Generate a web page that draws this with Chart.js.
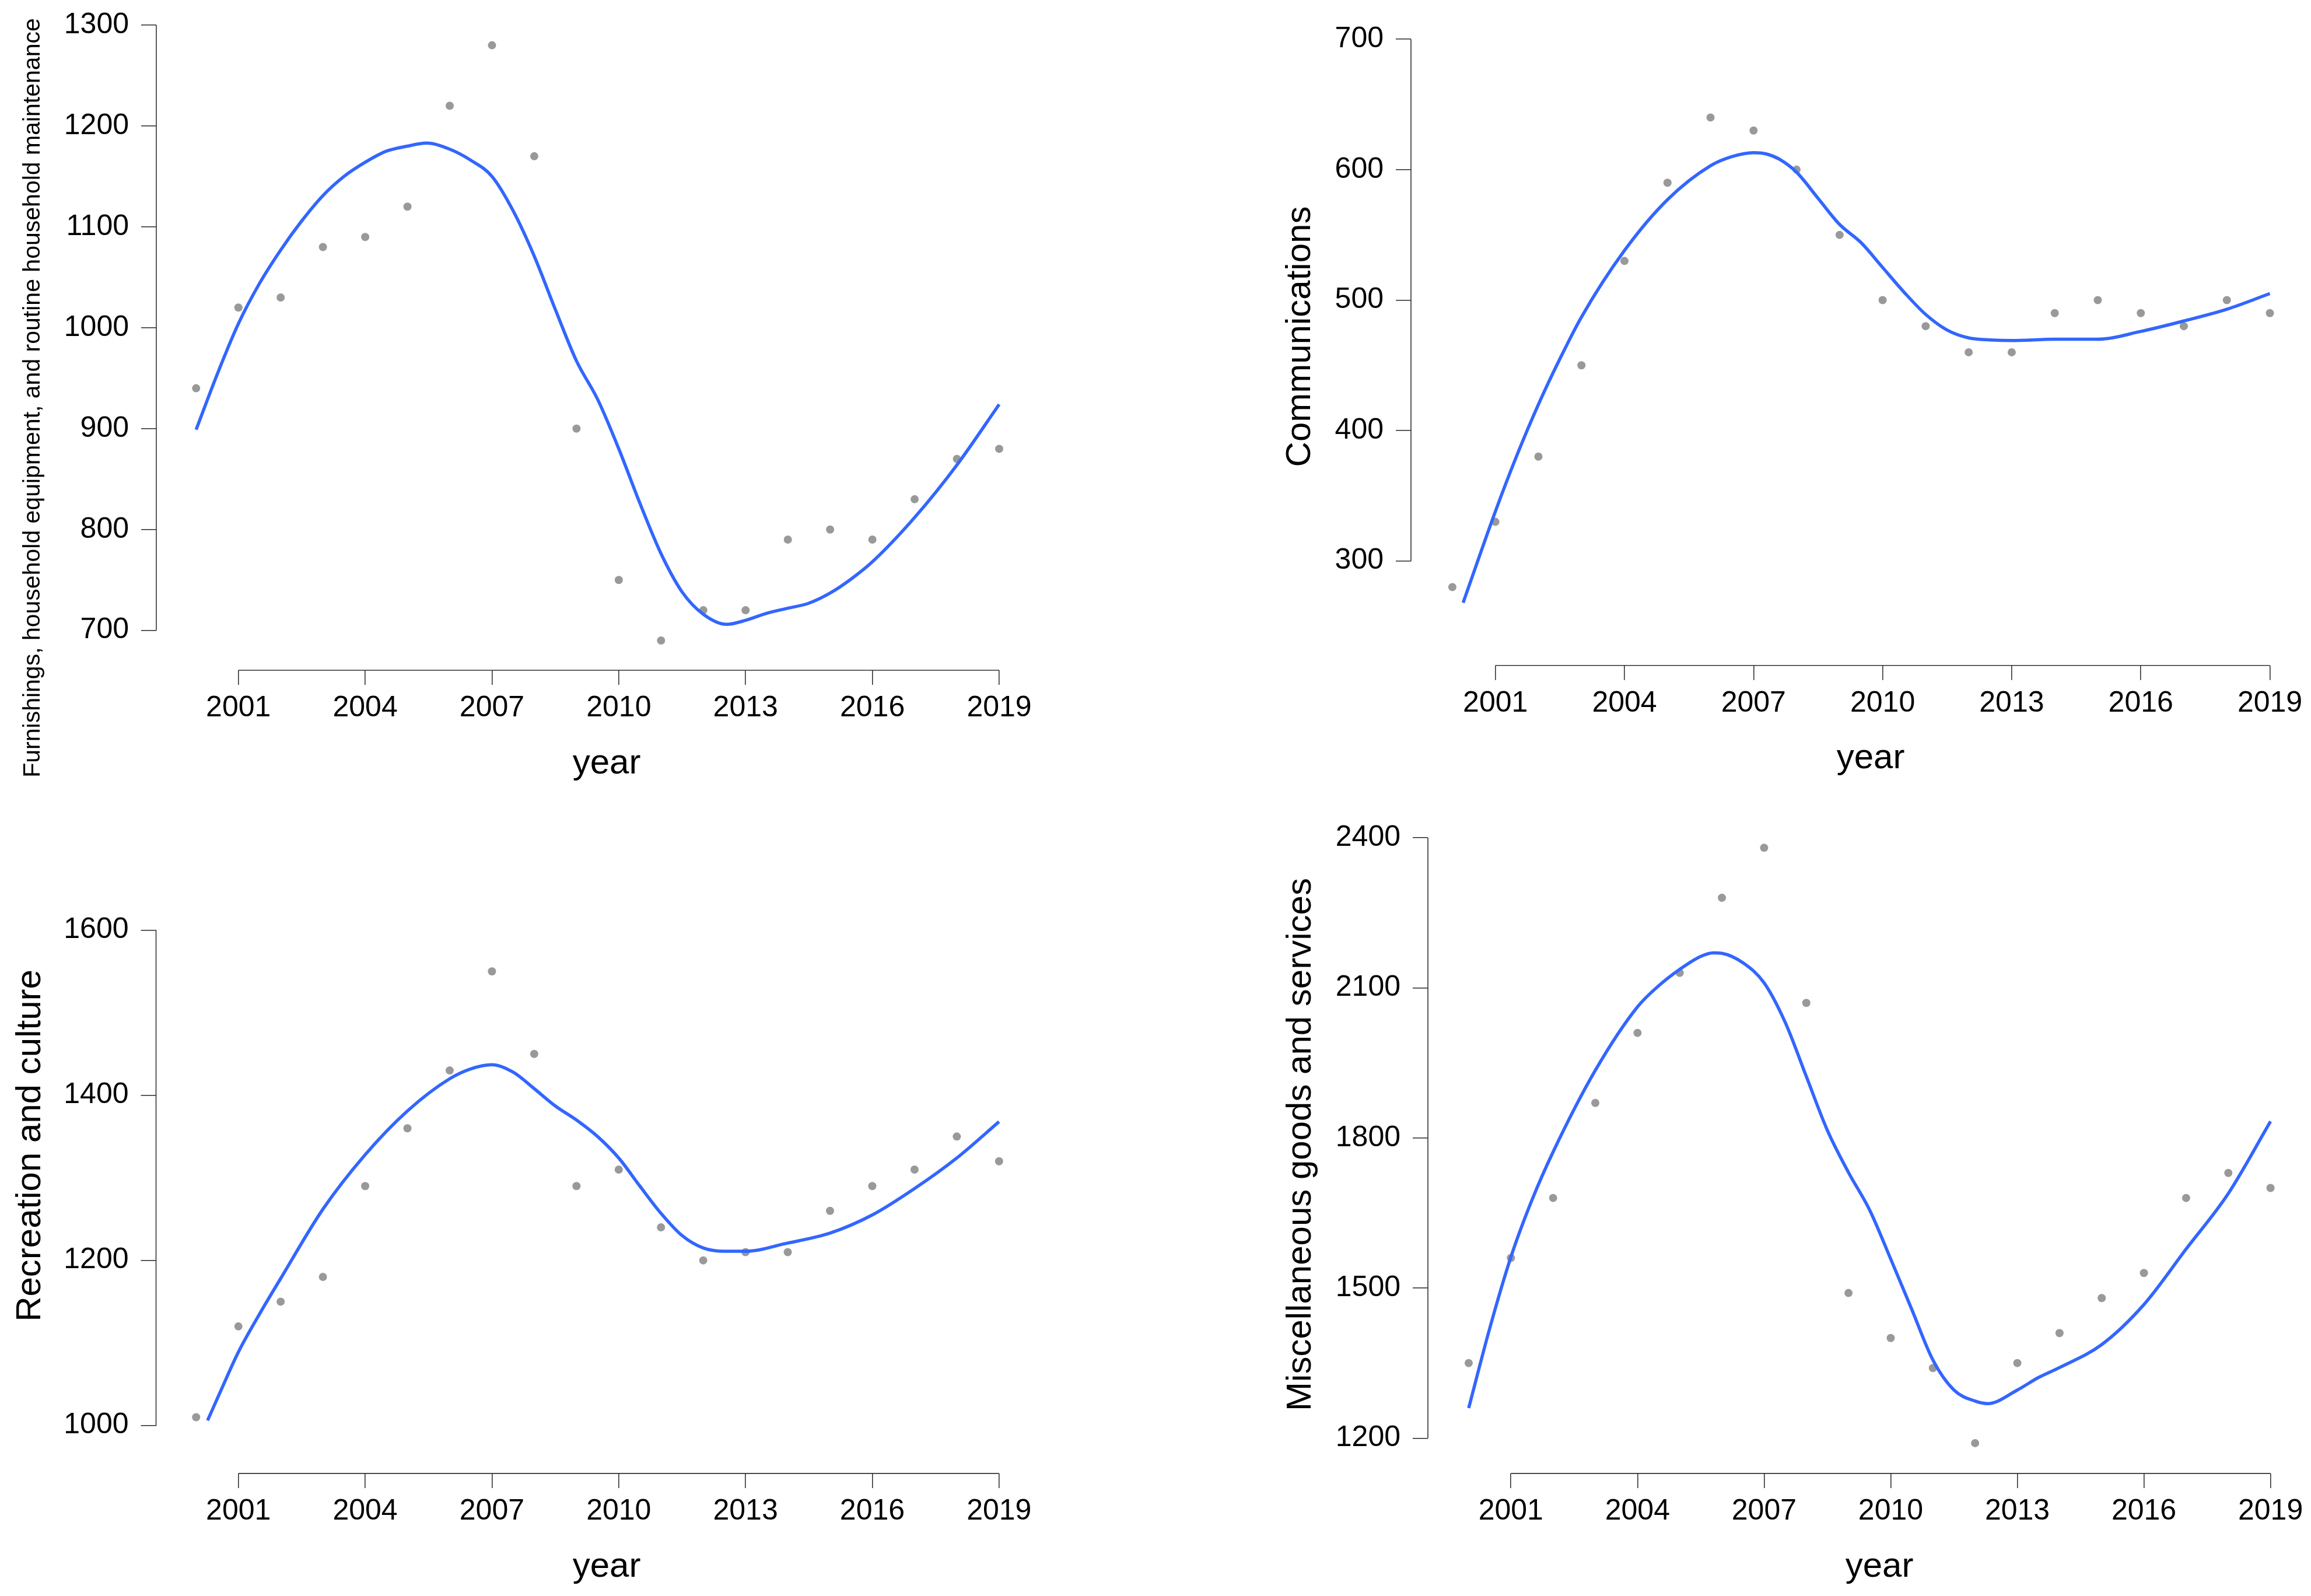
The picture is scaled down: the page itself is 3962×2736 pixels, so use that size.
<!DOCTYPE html>
<html>
<head>
<meta charset="utf-8">
<script src="https://cdn.jsdelivr.net/npm/chart.js@4.4.1/dist/chart.umd.min.js"></script>
<style>
  html, body { margin: 0; padding: 0; background: #fff; }
  #page { position: relative; width: 3962px; height: 2736px; overflow: hidden; }
  #page canvas { position: absolute; }
</style>
</head>
<body>
<div id="page">
  <canvas id="c1" width="1981" height="1368" style="left:0;top:0"></canvas>
  <canvas id="c2" width="1981" height="1368" style="left:1981px;top:0"></canvas>
  <canvas id="c3" width="1981" height="1368" style="left:0;top:1368px"></canvas>
  <canvas id="c4" width="1981" height="1368" style="left:1981px;top:1368px"></canvas>
</div>
<script>
// observed yearly values
const years = [2000, 2001, 2002, 2003, 2004, 2005, 2006, 2007, 2008, 2009,
  2010, 2011, 2012, 2013, 2014, 2015, 2016, 2017, 2018, 2019];
const furnishings = [940, 1020, 1030, 1080, 1090, 1120, 1220, 1280, 1170, 900,
  750, 690, 720, 720, 790, 800, 790, 830, 870, 880];
const communications = [280, 330, 380, 450, 530, 590, 640, 630, 600, 550,
  500, 480, 460, 460, 490, 500, 490, 480, 500, 490];
const recreation = [1010, 1120, 1150, 1180, 1290, 1360, 1430, 1550, 1450, 1290,
  1310, 1240, 1200, 1210, 1210, 1260, 1290, 1310, 1350, 1320];
const misc = [1350, 1560, 1680, 1870, 2010, 2130, 2280, 2380, 2070, 1490,
  1400, 1340, 1190, 1350, 1410, 1480, 1530, 1680, 1730, 1700];

// smoothed curves
const furnFitYears = [2000, 2000.5, 2001, 2001.5, 2002, 2002.5, 2003, 2003.5, 2004, 2004.5,
  2005, 2005.45, 2006, 2006.5, 2007, 2007.5, 2008, 2008.5, 2009, 2009.5,
  2010, 2010.5, 2011, 2011.5, 2012, 2012.55, 2013, 2013.5, 2014, 2014.5,
  2015, 2015.5, 2016, 2017, 2018, 2019];
const furnFit = [899, 954, 1004, 1044, 1077, 1106, 1131, 1150, 1164, 1175,
  1180, 1183, 1177, 1166, 1150, 1116, 1071, 1018, 967, 929,
  880, 826, 776, 738, 716, 706, 710, 717, 722, 727,
  737, 751, 768, 812, 864, 924];

const commFitYears = [2000.25, 2001, 2001.5, 2002, 2002.5, 2003, 2004, 2005, 2006, 2006.5,
  2007, 2007.3, 2007.6, 2008, 2008.5, 2009, 2009.5, 2010, 2010.5, 2011,
  2011.5, 2012, 2012.5, 2013, 2014, 2015, 2016, 2017, 2018, 2019];
const commFit = [268, 338, 381, 420, 455, 487, 538, 577, 603, 610,
  613, 612, 608, 598, 578, 558, 544, 525, 506, 489,
  477, 471, 469.5, 469, 470, 470, 476, 484, 493, 505];

const recFitYears = [2000.27, 2000.6, 2001, 2001.5, 2002, 2003, 2004, 2005, 2006, 2006.5,
  2007, 2007.5, 2008, 2008.5, 2009, 2009.5, 2010, 2010.5, 2011, 2011.5,
  2012, 2012.5, 2013, 2014, 2015, 2016, 2017, 2018, 2019];
const recFit = [1006, 1044, 1089, 1135, 1178, 1262, 1328, 1381, 1420, 1432,
  1437, 1428, 1408, 1387, 1370, 1350, 1324, 1290, 1257, 1230,
  1215, 1211, 1211, 1221, 1233, 1255, 1287, 1324, 1368];

const miscFitYears = [2000, 2000.5, 2001, 2001.5, 2002, 2003, 2004, 2004.5, 2005, 2005.5,
  2005.8, 2006, 2006.5, 2007, 2007.5, 2008, 2008.5, 2009, 2009.5, 2010,
  2010.5, 2011, 2011.5, 2012, 2012.3, 2013, 2013.5, 2014, 2015, 2016,
  2017, 2018, 2019];
const miscFit = [1260, 1420, 1562, 1676, 1772, 1935, 2062, 2104, 2137, 2163,
  2170, 2169, 2150, 2110, 2031, 1923, 1815, 1731, 1656, 1558,
  1457, 1356, 1296, 1274, 1269, 1296, 1321, 1341, 1387, 1467,
  1578, 1689, 1833];

// tick labels
const yearTicks = [2001, 2004, 2007, 2010, 2013, 2016, 2019];
const furnTicks = [700, 800, 900, 1000, 1100, 1200, 1300];
const commTicks = [300, 400, 500, 600, 700];
const recTicks = [1000, 1200, 1400, 1600];
const miscTicks = [1200, 1500, 1800, 2100, 2400];

const FONT = "'Liberation Sans', Arial, sans-serif";
const INK = '#000000';
const AXIS = '#333333';

// panel layout: pixel anchors for two tick values on each axis, chart area box,
// and where the axis titles sit (all relative to the panel canvas)
const PANELS = [
  {
    id: 'c1', points: furnishings, fitX: furnFitYears, fitY: furnFit, yTicks: furnTicks,
    yLabel: 'Furnishings, household equipment, and routine household maintenance', yLabelSize: 41,
    xRef: [[2001, 408.7], [2019, 1713]], yRef: [[1300, 43], [700, 1080.7]],
    area: { l: 268, t: 20, r: 1790, b: 1149 },
    yTitleAt: [57, 682], xTitleAt: [1040, 1309],
  },
  {
    id: 'c2', points: communications, fitX: commFitYears, fitY: commFit, yTicks: commTicks,
    yLabel: 'Communications', yLabelSize: 60,
    xRef: [[2001, 582.7], [2019, 1910.5]], yRef: [[700, 67.2], [300, 961.7]],
    area: { l: 438, t: 20, r: 1965, b: 1140.8 },
    yTitleAt: [248, 577], xTitleAt: [1226, 1300],
  },
  {
    id: 'c3', points: recreation, fitX: recFitYears, fitY: recFit, yTicks: recTicks,
    yLabel: 'Recreation and culture', yLabelSize: 60,
    xRef: [[2001, 408.7], [2019, 1712.8]], yRef: [[1600, 226.5], [1000, 1075.7]],
    area: { l: 267.5, t: 20, r: 1790, b: 1157.9 },
    yTitleAt: [52, 596], xTitleAt: [1040, 1318],
  },
  {
    id: 'c4', points: misc, fitX: miscFitYears, fitY: miscFit, yTicks: miscTicks,
    yLabel: 'Miscellaneous goods and services', yLabelSize: 60,
    xRef: [[2001, 609.3], [2019, 1911.6]], yRef: [[2400, 68.2], [1200, 1097.3]],
    area: { l: 467, t: 20, r: 1965, b: 1157.9 },
    yTitleAt: [249, 594], xTitleAt: [1241, 1318],
  },
];

function valueAt(ref, px) {
  const [[v1, p1], [v2, p2]] = ref;
  return v1 + (px - p1) * (v2 - v1) / (p2 - p1);
}

// axis lines only span first to last tick, like base R graphics
const axisLines = {
  id: 'axisLines',
  afterDraw(chart) {
    const { ctx, chartArea, scales: { x, y } } = chart;
    const xt = x.ticks.map((t) => t.value);
    const yt = y.ticks.map((t) => t.value);
    ctx.save();
    ctx.strokeStyle = AXIS;
    ctx.lineWidth = 1.6;
    ctx.beginPath();
    ctx.moveTo(x.getPixelForValue(xt[0]), chartArea.bottom);
    ctx.lineTo(x.getPixelForValue(xt[xt.length - 1]), chartArea.bottom);
    ctx.moveTo(chartArea.left, y.getPixelForValue(yt[0]));
    ctx.lineTo(chartArea.left, y.getPixelForValue(yt[yt.length - 1]));
    ctx.stroke();
    ctx.restore();
  },
};

const axisTitles = {
  id: 'axisTitles',
  afterDraw(chart, args, opts) {
    const { ctx } = chart;
    ctx.save();
    ctx.fillStyle = INK;
    ctx.textAlign = 'center';
    ctx.textBaseline = 'middle';
    ctx.font = `60px ${FONT}`;
    ctx.fillText('year', opts.xAt[0], opts.xAt[1]);
    ctx.translate(opts.yAt[0], opts.yAt[1]);
    ctx.rotate(-Math.PI / 2);
    ctx.font = `${opts.ySize}px ${FONT}`;
    ctx.fillText(opts.yText, 0, 0);
    ctx.restore();
  },
};

function makeChart(p) {
  const canvas = document.getElementById(p.id);
  const W = canvas.width;
  const H = canvas.height;
  const a = p.area;

  return new Chart(canvas, {
    type: 'scatter',
    data: {
      datasets: [
        {
          label: 'fit',
          data: p.fitX.map((x, i) => ({ x, y: p.fitY[i] })),
          showLine: true,
          borderColor: '#3366FF',
          borderWidth: 5.5,
          pointRadius: 0,
          cubicInterpolationMode: 'monotone',
          fill: false,
        },
        {
          label: 'observed',
          data: years.map((x, i) => ({ x, y: p.points[i] })),
          pointRadius: 7,
          pointBackgroundColor: '#999999',
          pointBorderWidth: 0,
          showLine: false,
        },
      ],
    },
    options: {
      responsive: false,
      animation: false,
      devicePixelRatio: 1,
      layout: { padding: { top: a.t, right: W - a.r, left: 0, bottom: 0 } },
      plugins: {
        legend: { display: false },
        tooltip: { enabled: false },
        axisTitles: { xAt: p.xTitleAt, yAt: p.yTitleAt, yText: p.yLabel, ySize: p.yLabelSize },
      },
      scales: {
        x: {
          type: 'linear',
          min: valueAt(p.xRef, a.l),
          max: valueAt(p.xRef, a.r),
          afterBuildTicks: (s) => { s.ticks = yearTicks.map((value) => ({ value })); },
          afterFit: (s) => { s.height = H - a.b; s.paddingLeft = 0; s.paddingRight = 0; },
          border: { display: false },
          grid: { drawOnChartArea: false, drawTicks: true, tickLength: 25, color: AXIS, lineWidth: 1.6 },
          ticks: {
            autoSkip: false, maxRotation: 0, minRotation: 0, padding: 10,
            color: INK, font: { family: FONT, size: 50 },
            callback: (v) => String(v),
          },
        },
        y: {
          type: 'linear',
          min: valueAt(p.yRef, a.b),
          max: valueAt(p.yRef, a.t),
          afterBuildTicks: (s) => { s.ticks = p.yTicks.map((value) => ({ value })); },
          afterFit: (s) => { s.width = a.l; s.paddingTop = 0; s.paddingBottom = 0; },
          border: { display: false },
          grid: { drawOnChartArea: false, drawTicks: true, tickLength: 26, color: AXIS, lineWidth: 1.6 },
          ticks: {
            autoSkip: false, padding: 21,
            color: INK, font: { family: FONT, size: 50 },
            callback: (v) => String(v),
          },
        },
      },
    },
    plugins: [axisLines, axisTitles],
  });
}

PANELS.forEach(makeChart);
</script>
</body>
</html>
